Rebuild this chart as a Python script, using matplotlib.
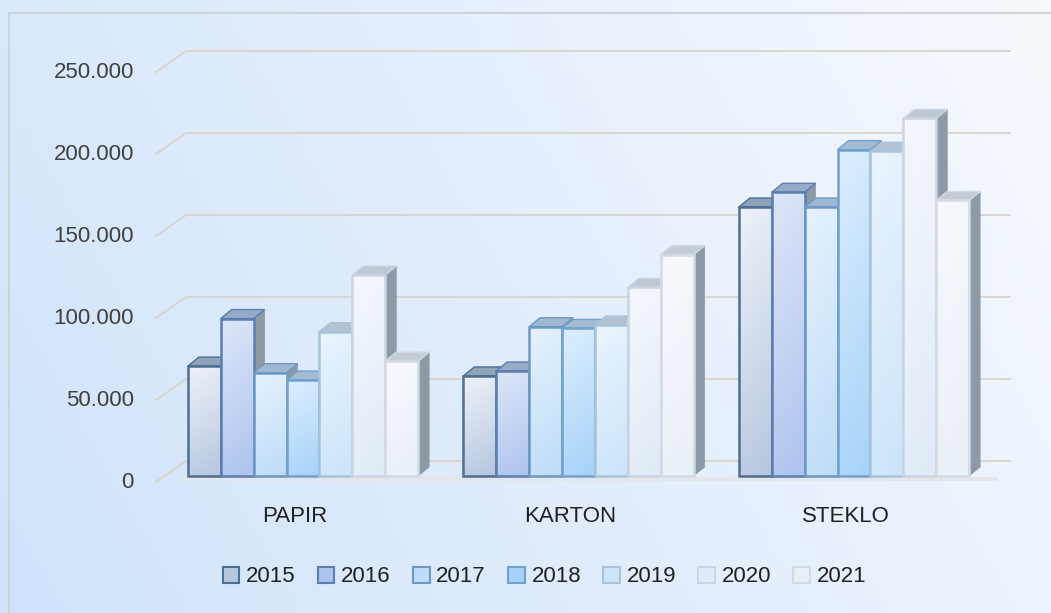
import numpy as np
import matplotlib.pyplot as plt
from matplotlib.patches import Polygon, Rectangle, Patch
import matplotlib.colors as mcolors

plt.rcParams['font.family'] = ['Liberation Sans', 'DejaVu Sans']

categories = ['PAPIR', 'KARTON', 'STEKLO']
years = ['2015', '2016', '2017', '2018', '2019', '2020', '2021']
# values per year (thousands), order PAPIR, KARTON, STEKLO
values = {
    '2015': [67, 61, 164],
    '2016': [96, 64, 173],
    '2017': [63, 91, 164],
    '2018': [58.5, 90, 199],
    '2019': [88, 92, 198],
    '2020': [122.5, 115, 218],
    '2021': [70, 135, 168],
}
yticks = [0, 50, 100, 150, 200, 250]
ytick_labels = ['0', '50.000', '100.000', '150.000', '200.000', '250.000']

# colours per year: edge, top of gradient, bottom of gradient, top face
edge_cols = ['#4c6e95', '#5a7eb0', '#6c98c6', '#6fa2cc', '#a8c4dc', '#c9d5e2', '#d2dae4']
grad_top = ['#eef2f8', '#dde6f8', '#e6f2fd', '#dceefd', '#eaf4fd', '#f4f7fc', '#f7f9fd']
grad_bot = ['#b6c6df', '#aec3ee', '#bedcf8', '#a6d2f8', '#cbe4fa', '#e0ebf7', '#e9eff7']
top_face = ['#8fa2ba', '#97abc8', '#9fb8d2', '#a3bcd4', '#b3c2d2', '#bfc8d2', '#c3cbd5']
side_col = '#8e99a6'

# pixel mapping (axes covers the whole figure)
PX_UNIT = 275.5   # px per category
PX_K = 1.64       # px per 1000
X0PX, Y0PX = 303, 476
W, H = 1051, 613

fig = plt.figure(figsize=(W / 100, H / 100), dpi=100)
ax = fig.add_axes([0, 0, 1, 1])
xl = ((0 - X0PX) / PX_UNIT, (W - X0PX) / PX_UNIT)
yl = ((Y0PX - H) / PX_K, Y0PX / PX_K)
ax.set_xlim(*xl)
ax.set_ylim(*yl)
ax.axis('off')

# background gradient
gx = np.linspace(0, 1, 200)
gy = np.linspace(0, 1, 120)
GX, GY = np.meshgrid(gx, gy)
t = np.clip(0.75 * GX + 0.25 * (1 - GY), 0, 1)
c0 = np.array(mcolors.to_rgb('#d0e3fa'))
c1 = np.array(mcolors.to_rgb('#f6f9fe'))
img = c0[None, None, :] * (1 - t[..., None]) + c1[None, None, :] * t[..., None]
ax.imshow(img, extent=[xl[0], xl[1], yl[0], yl[1]], aspect='auto', origin='upper', zorder=0)

# chart frame
ax.add_patch(Rectangle((0.009, -0.02), 1.2, 0.999, transform=ax.transAxes,
                       fill=False, edgecolor='#cfd3d8', lw=1.5, zorder=1, clip_on=False))

# gridlines: diagonal on side wall, then horizontal along back wall
FRONT_DY = -6 / PX_K
BACK_DY = 15 / PX_K
gx_front = (156 - X0PX) / PX_UNIT
gx_back = (186 - X0PX) / PX_UNIT
gx_end = (1010 - X0PX) / PX_UNIT
for v, lab in zip(yticks, ytick_labels):
    ax.plot([gx_front, gx_back, gx_end], [v + FRONT_DY, v + BACK_DY, v + BACK_DY],
            color='#d9d3ca', lw=1.3, zorder=2)
    ax.text((134 - X0PX) / PX_UNIT, v + FRONT_DY, lab, ha='right', va='center',
            fontsize=16, color='#404040', zorder=5)

# floor shadow
ax.plot([gx_front + 0.1, gx_end - 0.05], [-2, -2], color='#e4e6ea', lw=3, zorder=2)

# bars
bw = 32.9 / PX_UNIT
DX = 11 / PX_UNIT
DY = 9 / PX_K
n = len(years)
for ci in range(len(categories)):
    for yi, yr in enumerate(years):
        v = values[yr][ci]
        x0 = ci - n * bw / 2 + yi * bw
        x1 = x0 + bw
        z = 3 + ci * 0.1 + yi * 0.01
        side = Polygon([[x1, 0], [x1 + DX, DY], [x1 + DX, v + DY], [x1, v]],
                       closed=True, facecolor=side_col, edgecolor=side_col, lw=0.5, zorder=z)
        ax.add_patch(side)
        top = Polygon([[x0, v], [x0 + DX, v + DY], [x1 + DX, v + DY], [x1, v]],
                      closed=True, facecolor=top_face[yi], edgecolor=edge_cols[yi], lw=1.0, zorder=z)
        ax.add_patch(top)
        front = Rectangle((x0, 0), bw, v, facecolor='none', edgecolor=edge_cols[yi],
                          lw=1.8, zorder=z + 0.002)
        ax.add_patch(front)
        cmap = mcolors.LinearSegmentedColormap.from_list('g', [grad_bot[yi], grad_top[yi]])
        grad = np.linspace(0, 1, 64)[:, None] * np.ones((1, 8))
        grad = grad * 0.85 + 0.15 * np.linspace(1, 0, 8)[None, :]
        im = ax.imshow(grad, cmap=cmap, extent=[x0, x1, 0, v], origin='lower',
                       aspect='auto', zorder=z + 0.001, vmin=0, vmax=1)
        im.set_clip_path(front)

# category labels
for ci, cat in enumerate(categories):
    ax.text(ci - 0.03, (Y0PX - 517) / PX_K, cat, ha='center', va='center',
            fontsize=16, color='#202020', zorder=5)

# legend
handles = [Patch(facecolor=grad_bot[i], edgecolor=edge_cols[i], lw=1.5, label=yr)
           for i, yr in enumerate(years)]
ax.legend(handles=handles, loc='center', bbox_to_anchor=(0.518, 1 - 577 / H), ncol=7,
          frameon=False, fontsize=16, handlelength=0.75, handleheight=0.75,
          handletextpad=0.3, columnspacing=1.0, labelcolor='#202020')

fig.savefig('out.png', dpi=100)
